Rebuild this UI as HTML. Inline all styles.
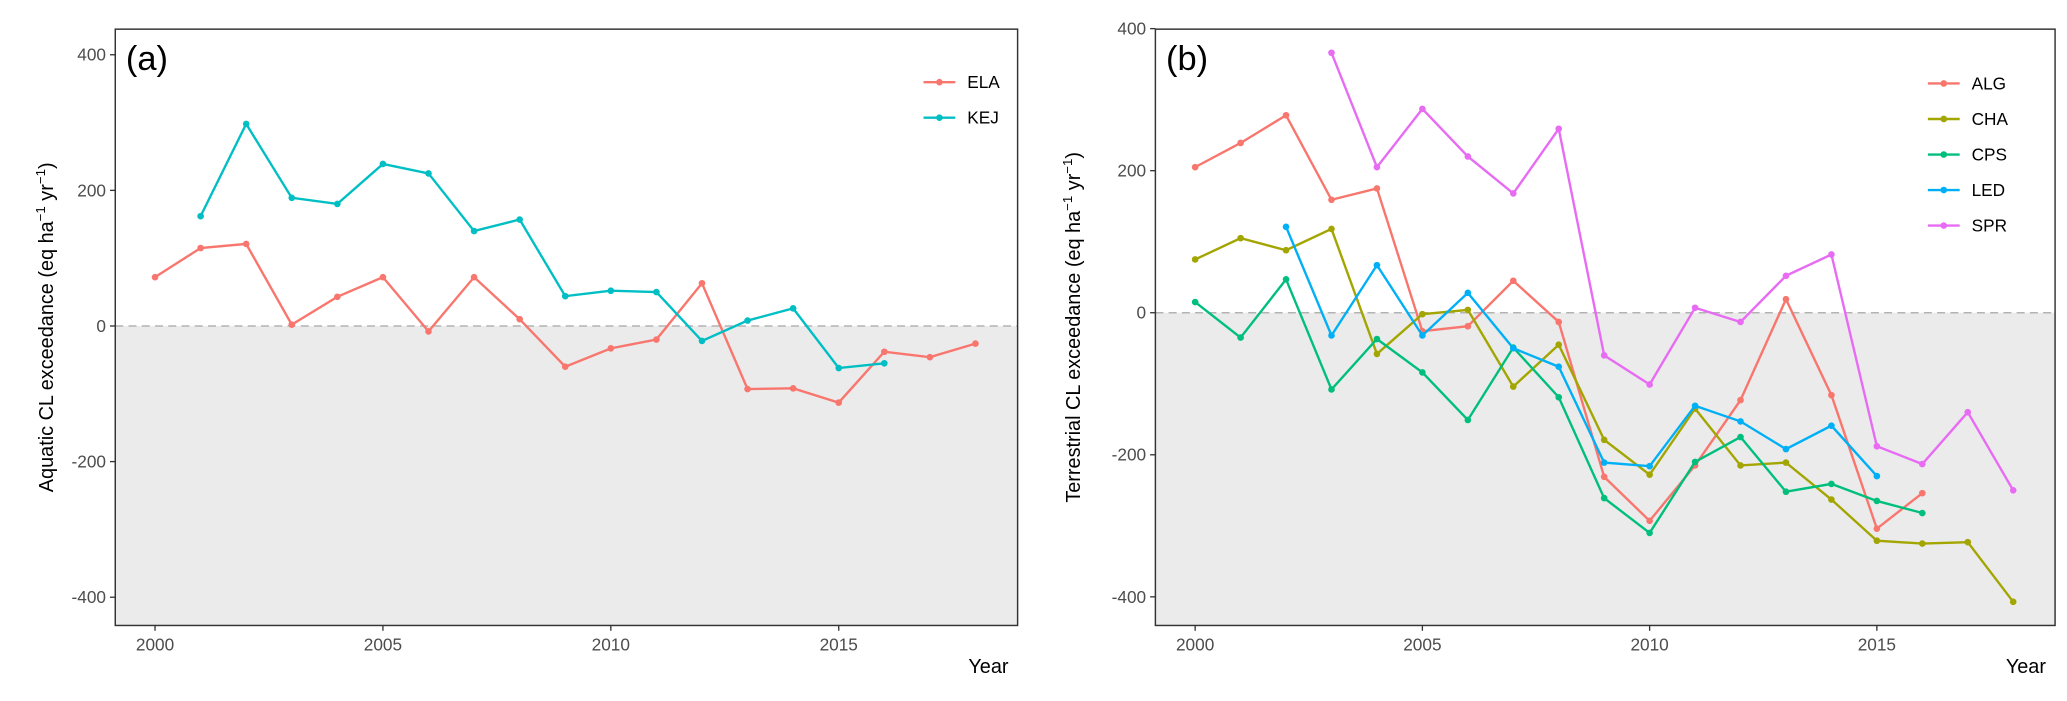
<!DOCTYPE html>
<html><head><meta charset="utf-8"><style>
html,body{margin:0;padding:0;background:#fff;}
svg{display:block;font-family:"Liberation Sans",Arial,sans-serif;}
</style></head><body>
<svg id="chart" width="2067" height="701" viewBox="0 0 1560 529" preserveAspectRatio="none" xmlns="http://www.w3.org/2000/svg"></svg>
<script>
const years = [2000,2001,2002,2003,2004,2005,2006,2007,2008,2009,2010,2011,2012,2013,2014,2015,2016,2017,2018];
const xTicks = [2000,2005,2010,2015];
const yTicks = [-400,-200,0,200,400];
// panel a
const elaYears = [2000,2001,2002,2003,2004,2005,2006,2007,2008,2009,2010,2011,2012,2013,2014,2015,2016,2017,2018];
const elaValues = [72,115,121,2,43,72,-8,72,10,-60,-33,-20,63,-93,-92,-113,-38,-46,-26];
const kejYears = [2001,2002,2003,2004,2005,2006,2007,2008,2009,2010,2011,2012,2013,2014,2015,2016];
const kejValues = [162,298,189,180,239,225,140,157,44,52,50,-22,8,26,-62,-55];
// panel b
const algYears = [2000,2001,2002,2003,2004,2005,2006,2007,2008,2009,2010,2011,2012,2013,2014,2015,2016];
const algValues = [205,239,278,159,175,-26,-19,45,-13,-231,-293,-215,-123,19,-116,-304,-254];
const chaYears = [2000,2001,2002,2003,2004,2005,2006,2007,2008,2009,2010,2011,2012,2013,2014,2015,2016,2017,2018];
const chaValues = [75,105,88,118,-58,-2,4,-104,-45,-179,-228,-135,-215,-211,-263,-321,-325,-323,-407];
const cpsYears = [2000,2001,2002,2003,2004,2005,2006,2007,2008,2009,2010,2011,2012,2013,2014,2015,2016];
const cpsValues = [15,-35,47,-108,-37,-84,-151,-49,-119,-261,-310,-210,-175,-252,-241,-265,-282];
const ledYears = [2002,2003,2004,2005,2006,2007,2008,2009,2010,2011,2012,2013,2014,2015];
const ledValues = [121,-32,67,-32,28,-50,-76,-211,-216,-131,-153,-192,-159,-230];
const sprYears = [2003,2004,2005,2006,2007,2008,2009,2010,2011,2012,2013,2014,2015,2016,2017,2018];
const sprValues = [366,205,287,220,168,259,-60,-101,7,-13,52,82,-188,-213,-140,-250];

const NS="http://www.w3.org/2000/svg";
const svg=document.getElementById('chart');
function mk(tag,attrs,parent){const e=document.createElementNS(NS,tag);for(const k in attrs)e.setAttribute(k,attrs[k]);(parent||svg).appendChild(e);return e;}

function panel(p){
  const g=mk('g',{});
  
  
  const xs=v=>p.x0+(v-2000)*p.xk;
  const ys=v=>p.y0-v*p.yk;
  const sh=mk('rect',{x:p.L,y:ys(0),width:p.R-p.L,height:p.B-ys(0),fill:'#ebebeb'},g);
  
  
  const zl=mk('line',{x1:p.L,x2:p.R,y1:ys(0),y2:ys(0),stroke:'#b3b3b3','stroke-width':1.2,'stroke-dasharray':'6,4'},g);
  
  
  p.series.forEach(s=>{
    const sg=mk('g',{},g);
    
    
    const pts=s.xs.map((yr,i)=>xs(yr)+','+ys(s.vs[i])).join(' ');
    mk('polyline',{points:pts,fill:'none',stroke:s.color,'stroke-width':1.8},sg);
    s.xs.forEach((yr,i)=>{
      const c=mk('circle',{cx:xs(yr),cy:ys(s.vs[i]),r:2.5,fill:s.color},sg);
      
      
    });
  });
  const fr=mk('rect',{x:p.L,y:p.T,width:p.R-p.L,height:p.B-p.T,fill:'none',stroke:'#333','stroke-width':1.1},g);
  
  
  yTicks.forEach(t=>{
    const y=ys(t);
    mk('line',{x1:p.L-4,x2:p.L,y1:y,y2:y,stroke:'#333'},g);
    const tx=mk('text',{x:p.L-7,y:y+4.5,'text-anchor':'end','font-size':13,fill:'#4d4d4d'},g);
    tx.textContent=t;
    
    
  });
  xTicks.forEach(t=>{
    const x=xs(t);
    mk('line',{x1:x,x2:x,y1:p.B,y2:p.B+4,stroke:'#333'},g);
    const tx=mk('text',{x:x,y:p.B+19,'text-anchor':'middle','font-size':13,fill:'#4d4d4d'},g);
    tx.textContent=t;
    
    
  });
  const xt=mk('text',{x:p.R-22,y:p.B+36,'text-anchor':'middle','font-size':15,fill:'#000'},g);
  xt.textContent='Year';
  
  
  const yt=mk('text',{transform:'translate('+p.ytx+','+((p.T+p.B)/2)+') rotate(-90)','text-anchor':'middle','font-size':15,fill:'#000'},g);
  yt.innerHTML=p.ytitle+' (eq ha<tspan dy="-6" font-size="10">−1</tspan><tspan dy="6"> yr</tspan><tspan dy="-6" font-size="10">−1</tspan><tspan dy="6">)</tspan>';
  
  
  const pl=mk('text',{x:p.L+8,y:p.T+31,'font-size':26,fill:'#000'},g);
  pl.textContent=p.tag;
  
  
  p.series.forEach((s,i)=>{
    const ly=p.legY+i*26.8;
    const lg=mk('g',{},g);
    
    
    mk('line',{x1:p.legX,x2:p.legX+24,y1:ly,y2:ly,stroke:s.color,'stroke-width':1.8},lg);
    mk('circle',{cx:p.legX+12,cy:ly,r:2.5,fill:s.color},lg);
    const t=mk('text',{x:p.legX+33,y:ly+4.5,'font-size':13,fill:'#000'},lg);
    t.textContent=s.label;
  });
}

panel({name:'panel-a',tag:'(a)',L:87,R:768,T:22,B:472,x0:117,xk:34.4,y0:246,yk:0.5117,ytx:40,ytitle:'Aquatic CL exceedance',legX:697,legY:62,
  series:[{label:'ELA',color:'#F8766D',xs:elaYears,vs:elaValues},{label:'KEJ',color:'#00BFC4',xs:kejYears,vs:kejValues}]});
panel({name:'panel-b',tag:'(b)',L:872,R:1551,T:22,B:472,x0:902,xk:34.3,y0:236,yk:0.536,ytx:815,ytitle:'Terrestrial CL exceedance',legX:1455,legY:63,
  series:[{label:'ALG',color:'#F8766D',xs:algYears,vs:algValues},{label:'CHA',color:'#A3A500',xs:chaYears,vs:chaValues},{label:'CPS',color:'#00BF7D',xs:cpsYears,vs:cpsValues},{label:'LED',color:'#00B0F6',xs:ledYears,vs:ledValues},{label:'SPR',color:'#E76BF3',xs:sprYears,vs:sprValues}]});
</script>
</body></html>
